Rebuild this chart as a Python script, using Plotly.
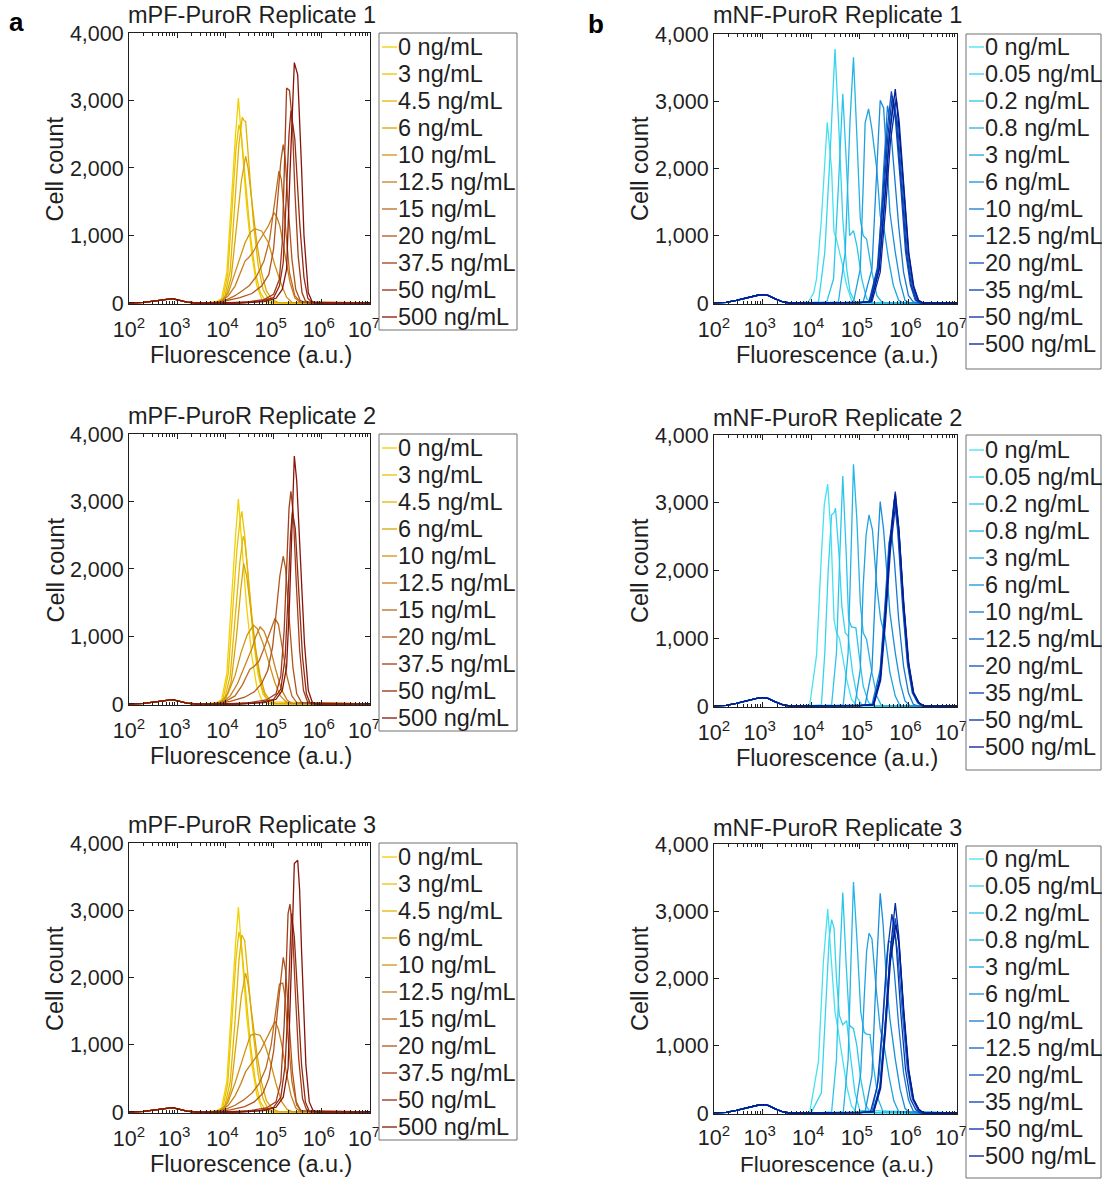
import plotly.graph_objects as go

# ---------------------------------------------------------------------------
# Concentrations (legend labels) and line colours
# ---------------------------------------------------------------------------
A_CONC = ["0", "3", "4.5", "6", "10", "12.5", "15", "20", "37.5", "50", "500"]
B_CONC = ["0", "0.05", "0.2", "0.8", "3", "6", "10", "12.5", "20", "35", "50", "500"]

A_COLORS = ["#F2D000", "#EBC300", "#E3B500", "#DAA500", "#D19212", "#C77E1B",
            "#BC6A1E", "#B0561C", "#A23E17", "#952A12", "#871408"]
B_COLORS = ["#45E2F2", "#36D4EF", "#2CC5EA", "#25B4E5", "#1FA2E0", "#1A8EDA",
            "#1579D2", "#1063C7", "#0C4EBC", "#093BAF", "#062AA1", "#031B93"]

# Debris peak shared by every sample (log10 fluorescence, cell count)
A_DEBRIS_LOGX = [2.0, 2.3, 2.55, 2.75, 2.9, 3.05, 3.2, 3.4]
A_DEBRIS_COUNT = [0, 8, 30, 55, 65, 40, 12, 0]
B_DEBRIS_LOGX = [2.0, 2.25, 2.46, 2.74, 2.9, 3.02, 3.11, 3.25, 3.42, 3.56]
B_DEBRIS_COUNT = [3, 10, 40, 89, 115, 123, 113, 64, 15, 0]

# ---------------------------------------------------------------------------
# mPF-PuroR histograms: log10 fluorescence and cell counts, one list per dose
# ---------------------------------------------------------------------------
A1_LOGX = [
    [3.6, 3.8, 3.92, 4.03, 4.13, 4.21, 4.27, 4.34, 4.44, 4.55, 4.65, 4.75, 4.86, 5.0, 7.0],
    [3.62, 3.82, 3.95, 4.05, 4.15, 4.22, 4.28, 4.33, 4.42, 4.52, 4.62, 4.72, 4.82, 4.95, 7.0],
    [3.65, 3.85, 3.98, 4.1, 4.2, 4.28, 4.35, 4.39, 4.42, 4.48, 4.58, 4.68, 4.78, 4.9, 5.05, 7.0],
    [3.68, 3.88, 4.0, 4.12, 4.23, 4.33, 4.42, 4.47, 4.55, 4.65, 4.75, 4.85, 4.97, 5.1, 7.0],
    [3.7, 3.9, 4.06, 4.2, 4.3, 4.41, 4.52, 4.61, 4.75, 4.89, 5.03, 5.17, 5.27, 5.38, 7.0],
    [3.7, 3.9, 4.06, 4.2, 4.3, 4.41, 4.48, 4.58, 4.68, 4.8, 4.89, 5.01, 5.07, 5.13, 5.24, 5.34, 5.44, 5.55, 7.0],
    [3.75, 4.0, 4.2, 4.35, 4.5, 4.65, 4.8, 4.92, 5.02, 5.11, 5.16, 5.23, 5.33, 5.44, 5.55, 7.0],
    [3.8, 4.0, 4.3, 4.55, 4.75, 4.9, 5.0, 5.08, 5.15, 5.2, 5.24, 5.3, 5.38, 5.46, 5.55, 5.65, 7.0],
    [4.0, 4.5, 4.8, 5.0, 5.12, 5.18, 5.23, 5.27, 5.33, 5.39, 5.44, 5.51, 5.59, 5.66, 5.75, 7.0],
    [4.2, 4.7, 5.0, 5.12, 5.2, 5.27, 5.32, 5.36, 5.44, 5.54, 5.63, 5.71, 5.8, 7.0],
    [4.3, 4.8, 5.05, 5.18, 5.27, 5.34, 5.39, 5.43, 5.5, 5.54, 5.58, 5.63, 5.72, 5.8, 5.88, 7.0],
]
A1_COUNT = [
    [0, 15, 60, 450, 1680, 2490, 3036, 2420, 1440, 700, 260, 60, 10, 0, 0],
    [0, 15, 70, 430, 1480, 2280, 2642, 2500, 1780, 990, 460, 160, 40, 5, 0],
    [0, 15, 70, 480, 1450, 2350, 2750, 2700, 2690, 2150, 1200, 560, 200, 50, 5, 0],
    [0, 15, 70, 380, 1100, 1800, 2174, 2000, 1500, 900, 450, 180, 50, 5, 0],
    [0, 20, 150, 450, 650, 896, 1050, 1102, 1067, 896, 551, 256, 86, 10, 0],
    [0, 15, 108, 250, 420, 624, 670, 760, 896, 1030, 1141, 1338, 1270, 1141, 698, 305, 74, 10, 0],
    [0, 40, 108, 180, 260, 400, 620, 950, 1500, 1955, 1832, 1240, 450, 108, 20, 0],
    [0, 30, 80, 140, 250, 420, 800, 1500, 2100, 2347, 2150, 1450, 650, 200, 40, 5, 0],
    [0, 20, 50, 130, 350, 900, 2200, 3183, 3150, 2667, 1683, 698, 150, 30, 0, 0],
    [0, 20, 80, 250, 600, 1680, 2500, 2849, 2430, 1200, 380, 70, 5, 0],
    [0, 20, 70, 200, 500, 1930, 2900, 3562, 3380, 2800, 2000, 1000, 150, 20, 0, 0],
]

A2_LOGX = [
    [3.6, 3.8, 3.92, 4.03, 4.13, 4.21, 4.27, 4.34, 4.44, 4.55, 4.65, 4.75, 4.86, 5.0, 7.0],
    [3.62, 3.82, 3.95, 4.06, 4.16, 4.24, 4.3, 4.34, 4.4, 4.48, 4.58, 4.68, 4.78, 4.9, 7.0],
    [3.65, 3.85, 3.98, 4.1, 4.2, 4.3, 4.37, 4.4, 4.46, 4.55, 4.65, 4.75, 4.85, 4.97, 7.0],
    [3.68, 3.88, 4.0, 4.12, 4.23, 4.32, 4.38, 4.44, 4.52, 4.62, 4.72, 4.82, 4.94, 5.05, 7.0],
    [3.7, 3.9, 4.05, 4.2, 4.32, 4.45, 4.58, 4.66, 4.78, 4.9, 5.02, 5.14, 5.26, 5.36, 7.0],
    [3.72, 3.95, 4.1, 4.25, 4.38, 4.48, 4.55, 4.63, 4.72, 4.8, 4.92, 5.04, 5.16, 5.28, 5.38, 7.0],
    [3.75, 4.0, 4.2, 4.35, 4.51, 4.6, 4.7, 4.82, 4.95, 5.03, 5.1, 5.18, 5.28, 5.38, 5.48, 7.0],
    [3.8, 4.1, 4.4, 4.6, 4.75, 4.88, 4.98, 5.06, 5.13, 5.2, 5.25, 5.32, 5.4, 5.48, 5.58, 7.0],
    [4.0, 4.5, 4.85, 5.05, 5.15, 5.22, 5.28, 5.32, 5.36, 5.41, 5.47, 5.54, 5.62, 5.7, 5.78, 7.0],
    [4.2, 4.7, 5.0, 5.15, 5.24, 5.3, 5.35, 5.39, 5.45, 5.52, 5.6, 5.68, 5.76, 7.0],
    [4.3, 4.8, 5.05, 5.18, 5.27, 5.33, 5.38, 5.43, 5.48, 5.53, 5.58, 5.64, 5.72, 5.8, 5.88, 7.0],
]
A2_COUNT = [
    [0, 15, 60, 450, 1680, 2490, 3036, 2420, 1440, 700, 260, 60, 10, 0, 0],
    [0, 15, 70, 450, 1450, 2300, 2700, 2853, 2500, 1750, 950, 430, 150, 30, 0],
    [0, 15, 65, 420, 1250, 2100, 2484, 2420, 2000, 1300, 650, 260, 80, 10, 0],
    [0, 15, 60, 330, 1000, 1700, 2081, 1900, 1450, 850, 420, 160, 40, 5, 0],
    [0, 20, 150, 420, 750, 1020, 1166, 1120, 900, 620, 330, 120, 30, 5, 0],
    [0, 30, 120, 300, 520, 700, 820, 1000, 1141, 1080, 860, 520, 220, 60, 10, 0],
    [0, 40, 120, 280, 517, 560, 640, 860, 1100, 1269, 1180, 850, 400, 120, 20, 0],
    [0, 40, 100, 180, 300, 500, 850, 1400, 1900, 2189, 2000, 1300, 550, 150, 20, 0],
    [0, 20, 60, 150, 420, 1100, 2200, 2900, 3149, 2800, 1800, 800, 200, 40, 0, 0],
    [0, 20, 70, 220, 700, 1600, 2500, 2838, 2600, 1700, 700, 150, 10, 0],
    [0, 20, 70, 200, 550, 1500, 2700, 3675, 3300, 2600, 1800, 900, 200, 30, 0, 0],
]

A3_LOGX = [
    [3.6, 3.8, 3.92, 4.03, 4.13, 4.21, 4.27, 4.34, 4.44, 4.55, 4.65, 4.75, 4.86, 5.0, 7.0],
    [3.62, 3.82, 3.95, 4.05, 4.15, 4.22, 4.28, 4.33, 4.42, 4.52, 4.62, 4.72, 4.82, 4.95, 7.0],
    [3.65, 3.85, 3.98, 4.1, 4.2, 4.28, 4.34, 4.4, 4.48, 4.58, 4.68, 4.78, 4.88, 5.0, 7.0],
    [3.68, 3.88, 4.0, 4.12, 4.23, 4.33, 4.42, 4.47, 4.55, 4.65, 4.75, 4.85, 4.97, 5.1, 7.0],
    [3.7, 3.9, 4.05, 4.2, 4.32, 4.43, 4.52, 4.61, 4.72, 4.82, 4.93, 5.05, 5.17, 5.28, 5.38, 7.0],
    [3.7, 3.9, 4.06, 4.2, 4.32, 4.42, 4.52, 4.62, 4.72, 4.83, 4.93, 5.03, 5.1, 5.17, 5.26, 5.36, 5.46, 5.56, 7.0],
    [3.75, 4.0, 4.2, 4.38, 4.55, 4.7, 4.84, 4.95, 5.04, 5.12, 5.19, 5.24, 5.3, 5.38, 5.48, 5.58, 7.0],
    [3.8, 4.1, 4.4, 4.6, 4.78, 4.9, 5.0, 5.08, 5.15, 5.2, 5.25, 5.31, 5.39, 5.47, 5.56, 7.0],
    [4.0, 4.5, 4.85, 5.05, 5.15, 5.22, 5.27, 5.3, 5.34, 5.39, 5.45, 5.52, 5.6, 5.68, 5.76, 7.0],
    [4.2, 4.7, 5.0, 5.15, 5.24, 5.3, 5.34, 5.37, 5.43, 5.5, 5.58, 5.66, 5.74, 7.0],
    [4.3, 4.8, 5.05, 5.2, 5.3, 5.37, 5.43, 5.5, 5.54, 5.58, 5.62, 5.67, 5.74, 5.82, 5.9, 7.0],
]
A3_COUNT = [
    [0, 15, 60, 450, 1680, 2490, 3042, 2420, 1440, 700, 260, 60, 10, 0, 0],
    [0, 15, 70, 430, 1480, 2280, 2681, 2520, 1800, 1000, 470, 160, 40, 5, 0],
    [0, 15, 70, 450, 1350, 2250, 2632, 2550, 1950, 1150, 560, 200, 50, 5, 0],
    [0, 15, 70, 360, 1050, 1720, 2064, 1900, 1450, 880, 440, 170, 50, 5, 0],
    [0, 20, 140, 430, 720, 950, 1140, 1161, 1140, 1000, 750, 420, 150, 40, 5, 0],
    [0, 15, 100, 240, 420, 600, 700, 800, 900, 1060, 1200, 1348, 1230, 1000, 600, 250, 60, 10, 0],
    [0, 40, 100, 180, 280, 420, 650, 1000, 1500, 1900, 1916, 1700, 1100, 450, 100, 15, 0],
    [0, 30, 80, 150, 280, 500, 900, 1500, 2000, 2301, 2100, 1400, 600, 150, 20, 0],
    [0, 20, 60, 150, 450, 1300, 2500, 2950, 3091, 2750, 1800, 800, 200, 40, 0, 0],
    [0, 20, 70, 220, 700, 1600, 2500, 2953, 2600, 1700, 700, 150, 10, 0],
    [0, 20, 70, 220, 650, 2200, 3694, 3743, 3300, 2400, 1500, 700, 150, 20, 0, 0],
]

# ---------------------------------------------------------------------------
# mNF-PuroR histograms
# ---------------------------------------------------------------------------
B1_LOGX = [
    [3.6, 3.8, 3.94, 4.05, 4.11, 4.21, 4.33, 4.42, 4.47, 4.52, 4.63, 4.73, 4.83, 4.94, 7.0],
    [3.7, 3.95, 4.15, 4.28, 4.39, 4.49, 4.57, 4.65, 4.73, 4.8, 4.9, 5.0, 7.0],
    [3.8, 4.1, 4.32, 4.46, 4.56, 4.65, 4.73, 4.79, 4.87, 4.94, 5.04, 5.14, 5.25, 7.0],
    [4.0, 4.3, 4.56, 4.7, 4.8, 4.87, 4.94, 5.01, 5.07, 5.14, 5.25, 5.35, 5.45, 5.55, 7.0],
    [4.2, 4.6, 4.87, 5.01, 5.07, 5.11, 5.18, 5.25, 5.35, 5.42, 5.49, 5.59, 5.69, 5.8, 5.9, 7.0],
    [4.4, 4.8, 5.07, 5.25, 5.35, 5.42, 5.49, 5.56, 5.62, 5.73, 5.83, 5.93, 6.03, 7.0],
    [4.5, 4.9, 5.21, 5.38, 5.49, 5.57, 5.62, 5.71, 5.8, 5.9, 6.0, 6.1, 6.2, 7.0],
    [4.5, 5.0, 5.22, 5.39, 5.5, 5.6, 5.69, 5.77, 5.88, 5.98, 6.08, 6.18, 6.28, 7.0],
    [4.5, 5.0, 5.19, 5.36, 5.47, 5.56, 5.65, 5.73, 5.84, 5.94, 6.04, 6.14, 6.24, 7.0],
    [4.5, 5.0, 5.2, 5.37, 5.48, 5.58, 5.67, 5.75, 5.86, 5.96, 6.06, 6.16, 6.26, 7.0],
    [4.5, 5.0, 5.25, 5.42, 5.53, 5.63, 5.75, 5.81, 5.91, 6.01, 6.11, 6.21, 6.31, 7.0],
    [4.5, 5.0, 5.23, 5.4, 5.51, 5.61, 5.73, 5.79, 5.9, 6.0, 6.1, 6.2, 6.3, 7.0],
]
B1_COUNT = [
    [0, 5, 15, 150, 360, 1248, 2688, 1988, 1050, 950, 607, 261, 40, 0, 0],
    [0, 5, 15, 755, 2234, 3778, 2579, 1248, 508, 163, 15, 0, 0],
    [0, 5, 15, 360, 1741, 3112, 1988, 1001, 1075, 853, 360, 64, 0, 0],
    [0, 5, 15, 755, 2727, 3655, 2481, 1248, 1001, 952, 459, 113, 15, 0, 0],
    [0, 5, 15, 508, 1741, 2678, 2885, 2579, 1988, 1297, 1149, 656, 261, 40, 0, 0],
    [0, 5, 15, 508, 1988, 3013, 2900, 2086, 1346, 755, 311, 40, 0, 0],
    [0, 5, 15, 508, 1988, 2934, 2727, 1988, 1149, 459, 113, 15, 0, 0],
    [0, 5, 20, 480, 1450, 2450, 3023, 2700, 1700, 740, 250, 40, 0, 0],
    [0, 5, 20, 520, 1550, 2550, 3147, 2750, 1760, 770, 270, 45, 0, 0],
    [0, 5, 20, 500, 1500, 2500, 3082, 2720, 1720, 750, 260, 40, 0, 0],
    [0, 5, 20, 460, 1400, 2400, 3048, 2700, 1700, 740, 250, 40, 0, 0],
    [0, 5, 20, 500, 1490, 2480, 3181, 2730, 1740, 760, 260, 40, 0, 0],
]

B2_LOGX = [
    [3.6, 3.85, 3.97, 4.11, 4.21, 4.27, 4.34, 4.41, 4.47, 4.52, 4.58, 4.63, 4.73, 4.83, 4.95, 7.0],
    [3.7, 4.0, 4.21, 4.28, 4.35, 4.42, 4.47, 4.5, 4.57, 4.63, 4.7, 4.76, 4.85, 4.95, 5.05, 7.0],
    [3.8, 4.2, 4.42, 4.52, 4.59, 4.65, 4.72, 4.77, 4.83, 4.92, 4.98, 5.07, 5.18, 5.3, 7.0],
    [4.0, 4.4, 4.66, 4.76, 4.82, 4.87, 4.94, 5.01, 5.07, 5.14, 5.25, 5.35, 5.45, 7.0],
    [4.2, 4.6, 4.9, 5.01, 5.07, 5.13, 5.19, 5.26, 5.35, 5.43, 5.52, 5.62, 5.73, 5.83, 7.0],
    [4.4, 4.8, 5.11, 5.25, 5.34, 5.42, 5.49, 5.56, 5.62, 5.73, 5.83, 5.93, 6.04, 7.0],
    [4.5, 4.9, 5.25, 5.42, 5.52, 5.6, 5.65, 5.71, 5.8, 5.9, 6.0, 6.1, 6.2, 7.0],
    [4.5, 5.0, 5.28, 5.42, 5.52, 5.62, 5.72, 5.79, 5.89, 5.99, 6.09, 6.2, 6.3, 7.0],
    [4.5, 5.0, 5.27, 5.41, 5.51, 5.61, 5.71, 5.78, 5.88, 5.98, 6.08, 6.19, 6.29, 7.0],
    [4.5, 5.0, 5.28, 5.42, 5.52, 5.62, 5.73, 5.8, 5.9, 6.0, 6.1, 6.21, 6.31, 7.0],
    [4.5, 5.0, 5.29, 5.43, 5.53, 5.63, 5.74, 5.81, 5.91, 6.01, 6.11, 6.22, 6.32, 7.0],
    [4.5, 5.0, 5.28, 5.42, 5.52, 5.62, 5.73, 5.8, 5.9, 6.0, 6.1, 6.21, 6.31, 7.0],
]
B2_COUNT = [
    [0, 5, 15, 750, 2223, 2979, 3274, 2503, 1276, 1080, 1000, 785, 393, 98, 0, 0],
    [0, 5, 15, 785, 2000, 2822, 2850, 2920, 2258, 1473, 1080, 1031, 500, 120, 10, 0],
    [0, 5, 15, 785, 2258, 3396, 2258, 1276, 1168, 1153, 785, 295, 49, 0, 0],
    [0, 5, 15, 785, 2258, 3568, 2749, 1521, 1080, 982, 491, 147, 0, 0],
    [0, 5, 15, 540, 1767, 2528, 2822, 2600, 1767, 1276, 1031, 491, 147, 0, 0],
    [0, 5, 15, 540, 2000, 3018, 2600, 1865, 1375, 785, 344, 74, 0, 0],
    [0, 5, 15, 540, 1521, 2405, 2577, 2160, 1276, 589, 196, 25, 0, 0],
    [0, 5, 20, 393, 1276, 2356, 3100, 2600, 1500, 630, 200, 50, 0, 0],
    [0, 5, 20, 420, 1320, 2400, 3050, 2580, 1480, 620, 195, 48, 0, 0],
    [0, 5, 20, 393, 1276, 2356, 3166, 2650, 1520, 640, 200, 50, 0, 0],
    [0, 5, 20, 380, 1250, 2300, 3000, 2550, 1470, 620, 195, 48, 0, 0],
    [0, 5, 20, 400, 1290, 2370, 3130, 2630, 1510, 635, 200, 50, 0, 0],
]

B3_LOGX = [
    [3.6, 3.85, 3.97, 4.15, 4.25, 4.34, 4.42, 4.49, 4.55, 4.63, 4.73, 4.83, 4.95, 7.0],
    [3.7, 4.0, 4.21, 4.3, 4.37, 4.42, 4.47, 4.52, 4.58, 4.65, 4.73, 4.8, 4.9, 5.0, 7.0],
    [3.8, 4.2, 4.42, 4.52, 4.59, 4.65, 4.72, 4.79, 4.87, 4.94, 5.02, 5.12, 5.22, 7.0],
    [4.0, 4.4, 4.66, 4.76, 4.82, 4.87, 4.94, 5.02, 5.09, 5.14, 5.21, 5.28, 5.38, 5.48, 7.0],
    [4.2, 4.6, 4.9, 5.02, 5.09, 5.14, 5.19, 5.25, 5.33, 5.42, 5.5, 5.6, 5.7, 5.8, 7.0],
    [4.4, 4.8, 5.11, 5.25, 5.34, 5.42, 5.48, 5.55, 5.62, 5.73, 5.83, 5.93, 6.04, 7.0],
    [4.5, 4.9, 5.25, 5.4, 5.5, 5.59, 5.64, 5.71, 5.8, 5.9, 6.0, 6.1, 6.2, 7.0],
    [4.5, 5.0, 5.27, 5.41, 5.51, 5.61, 5.71, 5.78, 5.88, 5.98, 6.08, 6.19, 6.29, 7.0],
    [4.5, 5.0, 5.28, 5.42, 5.52, 5.62, 5.73, 5.8, 5.9, 6.0, 6.1, 6.21, 6.31, 7.0],
    [4.5, 5.0, 5.22, 5.36, 5.46, 5.56, 5.66, 5.74, 5.84, 5.94, 6.04, 6.15, 6.25, 7.0],
    [4.5, 5.0, 5.28, 5.42, 5.52, 5.62, 5.73, 5.8, 5.9, 6.0, 6.1, 6.21, 6.31, 7.0],
    [4.5, 5.0, 5.29, 5.43, 5.53, 5.63, 5.74, 5.81, 5.91, 6.01, 6.11, 6.22, 6.32, 7.0],
]
B3_COUNT = [
    [0, 5, 10, 770, 2250, 3032, 2250, 1500, 1250, 900, 400, 100, 0, 0],
    [0, 5, 300, 1500, 2600, 2875, 2750, 2000, 1450, 1312, 1371, 900, 300, 40, 0],
    [0, 5, 15, 800, 2300, 3278, 2200, 1300, 1253, 1000, 500, 120, 10, 0],
    [0, 5, 15, 800, 2300, 3435, 2600, 1500, 1200, 1174, 1165, 700, 200, 20, 0],
    [0, 5, 15, 600, 1700, 2400, 2673, 2590, 1900, 1250, 1000, 550, 180, 20, 0],
    [0, 5, 15, 560, 2100, 3268, 2800, 1950, 1400, 800, 350, 70, 0, 0],
    [0, 5, 15, 560, 1600, 2555, 2540, 2100, 1300, 600, 200, 30, 0, 0],
    [0, 5, 20, 380, 1200, 2200, 2678, 2400, 1450, 640, 210, 50, 0, 0],
    [0, 5, 20, 390, 1250, 2300, 2894, 2550, 1500, 650, 210, 50, 0, 0],
    [0, 5, 20, 400, 1260, 2350, 2958, 2600, 1520, 650, 210, 50, 0, 0],
    [0, 5, 20, 393, 1276, 2356, 3120, 2650, 1520, 640, 200, 50, 0, 0],
    [0, 5, 20, 370, 1220, 2250, 2800, 2500, 1480, 630, 200, 50, 0, 0],
]

X_TICK_EXPONENTS = [2, 3, 4, 5, 6, 7]
Y_TICKS = [0, 1000, 2000, 3000, 4000]

# ---------------------------------------------------------------------------
# Page geometry (pixels)
# ---------------------------------------------------------------------------
W, H = 1102, 1179
FONT = "Liberation Sans, Arial, Helvetica, sans-serif"
INK = "#1f1f1f"
LABEL_SIZE = 23.5
TICK_SIZE = 21.5
NBSP = "\u00a0"


def fx(px):
    return px / W


def fy(py):
    return 1 - py / H


# plot box, legend box and text placement for each panel
PANELS = [
    dict(name="mPF-PuroR Replicate 1", logx=A1_LOGX, count=A1_COUNT, conc=A_CONC, colors=A_COLORS,
         debris=(A_DEBRIS_LOGX, A_DEBRIS_COUNT), box=(129, 370, 33, 304), leg=(379, 517, 33, 330), leg_y0=47,
         title_xy=(126, 15)),
    dict(name="mPF-PuroR Replicate 2", logx=A2_LOGX, count=A2_COUNT, conc=A_CONC, colors=A_COLORS,
         debris=(A_DEBRIS_LOGX, A_DEBRIS_COUNT), box=(129, 370, 434, 705), leg=(379, 517, 434, 731), leg_y0=448,
         title_xy=(126, 416)),
    dict(name="mPF-PuroR Replicate 3", logx=A3_LOGX, count=A3_COUNT, conc=A_CONC, colors=A_COLORS,
         debris=(A_DEBRIS_LOGX, A_DEBRIS_COUNT), box=(129, 370, 843, 1113), leg=(379, 517, 843, 1140), leg_y0=857,
         title_xy=(126, 825)),
    dict(name="mNF-PuroR Replicate 1", logx=B1_LOGX, count=B1_COUNT, conc=B_CONC, colors=B_COLORS,
         debris=(B_DEBRIS_LOGX, B_DEBRIS_COUNT), box=(714, 957, 34, 304), leg=(966, 1101, 34, 369), leg_y0=47,
         title_xy=(711, 15)),
    dict(name="mNF-PuroR Replicate 2", logx=B2_LOGX, count=B2_COUNT, conc=B_CONC, colors=B_COLORS,
         debris=(B_DEBRIS_LOGX, B_DEBRIS_COUNT), box=(714, 957, 435, 707), leg=(966, 1101, 435, 770), leg_y0=450,
         title_xy=(711, 418)),
    dict(name="mNF-PuroR Replicate 3", logx=B3_LOGX, count=B3_COUNT, conc=B_CONC, colors=B_COLORS,
         debris=(B_DEBRIS_LOGX, B_DEBRIS_COUNT), box=(714, 957, 844, 1114), leg=(966, 1101, 846, 1178), leg_y0=859,
         title_xy=(711, 828)),
]
LEG_STEP = 27

# decade labels; trailing spaces nudge the right-hand labels clear of the legend
x_ticktext = []
for e in X_TICK_EXPONENTS:
    pad = "" if e == 2 else (NBSP * 2 if e == 7 else NBSP)
    x_ticktext.append("10<sup>%d</sup>%s" % (e, pad))

fig = go.Figure()
layout = dict(
    width=W, height=H, autosize=False,
    margin=dict(l=0, r=0, t=0, b=0, pad=0, autoexpand=False),
    paper_bgcolor="white", plot_bgcolor="white", showlegend=False,
    font=dict(family=FONT, color=INK, size=20),
)
annotations = []
shapes = []

minor_vals = [m * 10 ** e for e in range(2, 7) for m in range(2, 10)]

for i, p in enumerate(PANELS):
    k = "" if i == 0 else str(i + 1)
    x0, x1, y0, y1 = p["box"]
    near_bottom = y1 + 66 > H
    layout["xaxis" + k] = dict(
        domain=[fx(x0), fx(x1)], anchor="y" + k, type="log", range=[2, 7],
        tickmode="array", tickvals=[10 ** e for e in X_TICK_EXPONENTS], ticktext=x_ticktext,
        ticks="inside", ticklen=5, tickcolor=INK, showline=True, linecolor=INK, linewidth=1,
        mirror="ticks", showgrid=False, zeroline=False, tickfont=dict(size=TICK_SIZE, color=INK),
        ticklabelstandoff=4 if near_bottom else 6, automargin=False,
        minor=dict(tickvals=minor_vals, ticks="inside", ticklen=3, tickcolor=INK, showgrid=False),
    )
    layout["yaxis" + k] = dict(
        domain=[fy(y1), fy(y0)], anchor="x" + k, range=[-15, 4000],
        tickmode="array", tickvals=Y_TICKS, tickformat=",d",
        ticks="inside", ticklen=5, tickcolor=INK, showline=True, linecolor=INK, linewidth=1,
        mirror="ticks", showgrid=False, zeroline=False, tickfont=dict(size=TICK_SIZE, color=INK),
        automargin=False,
    )

    dlx, dct = p["debris"]
    for lx, ct, color in zip(p["logx"], p["count"], p["colors"]):
        xs = [10 ** v for v in dlx + lx]
        fig.add_trace(go.Scatter(
            x=xs, y=dct + ct, mode="lines", line=dict(color=color, width=1.3),
            xaxis="x" + k, yaxis="y" + k, hoverinfo="skip",
        ))

    # panel title, axis titles
    tx, ty = p["title_xy"]
    annotations.append(dict(text=p["name"], x=fx(tx), y=fy(ty), xref="paper", yref="paper",
                            xanchor="left", yanchor="middle", showarrow=False, font=dict(size=LABEL_SIZE)))
    annotations.append(dict(text="Cell count", x=fx(x0 - 74), y=fy((y0 + y1) / 2), xref="paper", yref="paper",
                            textangle=-90, xanchor="center", yanchor="middle", showarrow=False,
                            font=dict(size=LABEL_SIZE)))
    if near_bottom:
        # last row: sit the axis title on the page's bottom edge
        annotations.append(dict(text="Fluorescence (a.u.)", x=fx((x0 + x1) / 2 + 1), y=0,
                                xref="paper", yref="paper", xanchor="center", yanchor="bottom",
                                showarrow=False, font=dict(size=22.5)))
    else:
        annotations.append(dict(text="Fluorescence (a.u.)", x=fx((x0 + x1) / 2 + 1), y=fy(y1 + 51),
                                xref="paper", yref="paper", xanchor="center", yanchor="middle",
                                showarrow=False, font=dict(size=LABEL_SIZE)))

    # legend box with short line samples
    lx0, lx1, ly0, ly1 = p["leg"]
    shapes.append(dict(type="rect", xref="paper", yref="paper", x0=fx(lx0), x1=fx(lx1), y0=fy(ly1), y1=fy(ly0),
                       line=dict(color="#707070", width=1), fillcolor="white", layer="above"))
    for j, (c, color) in enumerate(zip(p["conc"], p["colors"])):
        yy = p["leg_y0"] + j * LEG_STEP
        shapes.append(dict(type="line", xref="paper", yref="paper", x0=fx(lx0 + 3), x1=fx(lx0 + 18),
                           y0=fy(yy), y1=fy(yy), line=dict(color=color, width=1.3), layer="above"))
        annotations.append(dict(text=c + " ng/mL", x=fx(lx0 + 17), y=fy(yy), xref="paper", yref="paper",
                                xanchor="left", yanchor="middle", showarrow=False, font=dict(size=LABEL_SIZE)))

annotations.append(dict(text="<b>a</b>", x=fx(16), y=fy(22), xref="paper", yref="paper",
                        xanchor="center", yanchor="middle", showarrow=False, font=dict(size=26, color="black")))
annotations.append(dict(text="<b>b</b>", x=fx(596), y=fy(24), xref="paper", yref="paper",
                        xanchor="center", yanchor="middle", showarrow=False, font=dict(size=26, color="black")))

layout["annotations"] = annotations
layout["shapes"] = shapes
fig.update_layout(**layout)
fig.write_html("out.html")
